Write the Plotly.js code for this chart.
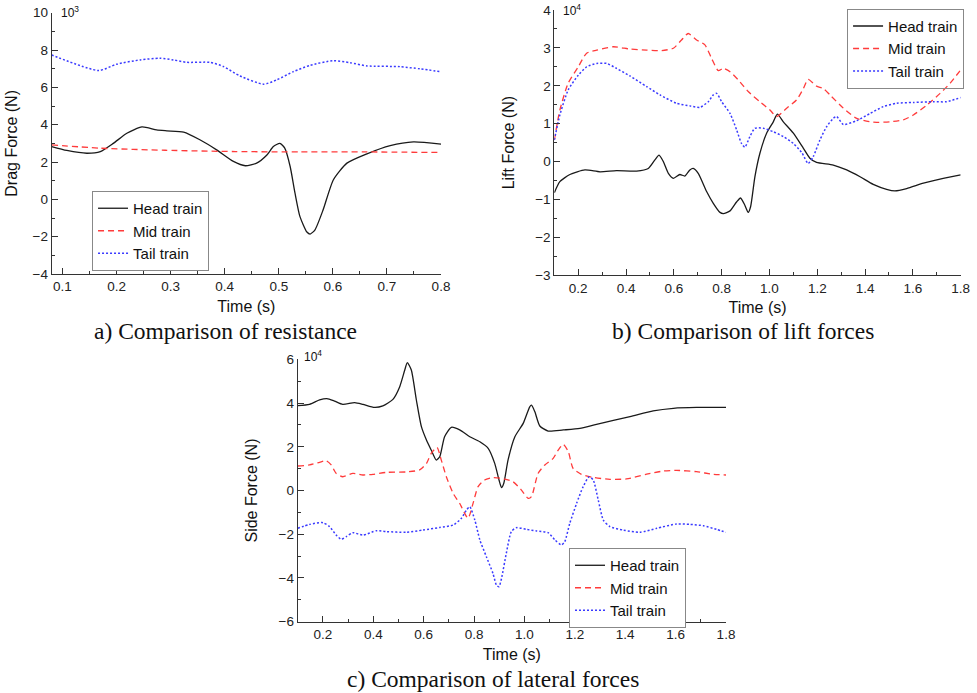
<!DOCTYPE html>
<html>
<head>
<meta charset="utf-8">
<script src="https://cdn.plot.ly/plotly-3.0.1.min.js"></script>
<style>html,body{margin:0;padding:0;background:#fff;}#chart{width:977px;height:693px;}</style>
</head>
<body>
<div id="chart"></div>
<script>
// ---- a) Drag force (x10^3 N) ----
const dragHeadT = [0.08,0.108,0.145,0.17,0.194,0.219,0.247,0.274,0.293,0.324,0.354,0.385,0.416,0.438,0.459,0.478,0.49,0.502,0.511,0.521,0.53,0.539,0.552,0.558,0.567,0.582,0.601,0.626,0.663,0.706,0.749,0.8];
const dragHeadV = [2.83,2.62,2.47,2.56,3.0,3.54,3.88,3.72,3.67,3.60,3.19,2.65,2.03,1.80,1.94,2.38,2.83,3.0,2.74,1.76,0.33,-0.91,-1.75,-1.86,-1.63,-0.56,1.05,1.94,2.44,2.88,3.08,2.96];
const dragMidT = [0.08,0.17,0.29,0.42,0.54,0.66,0.8];
const dragMidV = [2.92,2.74,2.63,2.56,2.54,2.54,2.51];
const dragTailT = [0.08,0.167,0.2,0.244,0.28,0.305,0.33,0.373,0.398,0.428,0.472,0.496,0.527,0.558,0.601,0.632,0.663,0.724,0.761,0.8];
const dragTailV = [7.73,6.90,7.24,7.47,7.56,7.47,7.34,7.34,7.11,6.61,6.17,6.40,6.84,7.18,7.43,7.32,7.15,7.11,6.99,6.84];

// ---- b) Lift force (x10^4 N) ----
const liftHeadT = [0.1,0.123,0.165,0.228,0.291,0.36,0.444,0.493,0.52,0.538,0.556,0.577,0.598,0.625,0.646,0.667,0.681,0.702,0.737,0.765,0.793,0.807,0.835,0.863,0.879,0.897,0.911,0.921,0.939,0.96,0.988,1.016,1.033,1.058,1.1,1.142,1.169,1.197,1.267,1.323,1.379,1.434,1.49,1.525,1.574,1.644,1.727,1.8];
const liftHeadV = [-0.82,-0.53,-0.34,-0.22,-0.27,-0.24,-0.25,-0.18,0.04,0.17,0.0,-0.31,-0.44,-0.34,-0.38,-0.22,-0.18,-0.31,-0.79,-1.10,-1.34,-1.37,-1.30,-1.06,-0.96,-1.15,-1.34,-1.19,-0.40,0.22,0.75,1.05,1.25,1.05,0.75,0.35,0.09,-0.02,-0.09,-0.22,-0.40,-0.60,-0.73,-0.77,-0.71,-0.57,-0.44,-0.35];
const liftMidT = [0.1,0.123,0.158,0.2,0.235,0.277,0.346,0.416,0.486,0.549,0.598,0.632,0.66,0.695,0.73,0.758,0.786,0.807,0.835,0.87,0.911,0.96,1.002,1.03,1.072,1.114,1.142,1.162,1.197,1.225,1.253,1.309,1.365,1.434,1.504,1.56,1.602,1.658,1.714,1.756,1.8];
const liftMidV = [0.57,1.36,2.07,2.50,2.86,2.94,3.03,2.97,2.94,2.93,2.99,3.21,3.38,3.21,3.08,2.72,2.40,2.46,2.37,2.15,1.85,1.58,1.36,1.19,1.41,1.63,1.93,2.17,1.99,1.93,1.76,1.41,1.14,1.04,1.05,1.10,1.23,1.49,1.80,2.07,2.42];
const liftTailT = [0.1,0.123,0.158,0.2,0.235,0.277,0.319,0.36,0.416,0.486,0.542,0.611,0.667,0.709,0.744,0.765,0.779,0.8,0.835,0.863,0.883,0.897,0.918,0.939,0.974,1.016,1.058,1.1,1.135,1.162,1.183,1.211,1.239,1.267,1.281,1.309,1.365,1.421,1.476,1.532,1.602,1.686,1.741,1.8];
const liftTailV = [0.57,1.23,1.89,2.28,2.50,2.59,2.59,2.46,2.26,1.98,1.76,1.54,1.47,1.43,1.58,1.76,1.80,1.58,1.27,0.83,0.48,0.38,0.66,0.88,0.88,0.79,0.66,0.48,0.24,-0.05,0.13,0.57,0.92,1.14,1.19,0.98,1.08,1.27,1.45,1.54,1.56,1.58,1.58,1.69];

// ---- c) Side force (x10^4 N) ----
const sideHeadT = [0.1,0.147,0.187,0.216,0.246,0.279,0.326,0.359,0.405,0.438,0.478,0.505,0.525,0.535,0.551,0.571,0.591,0.611,0.63,0.65,0.664,0.683,0.71,0.743,0.783,0.823,0.856,0.882,0.899,0.909,0.918,0.935,0.962,0.995,1.021,1.028,1.041,1.061,1.094,1.154,1.22,1.286,1.419,1.511,1.591,1.683,1.8];
const sideHeadV = [3.88,3.94,4.14,4.20,4.09,3.94,4.02,3.94,3.80,3.87,4.17,4.75,5.51,5.85,5.51,4.14,2.92,2.31,1.85,1.39,1.55,2.46,2.89,2.77,2.46,2.23,1.93,1.24,0.48,0.13,0.33,1.40,2.46,3.07,3.83,3.90,3.61,2.95,2.72,2.77,2.84,3.03,3.38,3.64,3.76,3.80,3.80];
const sideMidT = [0.1,0.147,0.187,0.213,0.233,0.253,0.279,0.319,0.359,0.399,0.452,0.531,0.584,0.611,0.63,0.653,0.67,0.69,0.717,0.743,0.776,0.796,0.816,0.842,0.875,0.909,0.955,0.988,1.015,1.028,1.054,1.081,1.114,1.134,1.154,1.174,1.193,1.226,1.273,1.339,1.405,1.485,1.551,1.604,1.683,1.75,1.8];
const sideMidV = [1.12,1.17,1.29,1.36,1.17,0.78,0.63,0.78,0.71,0.74,0.83,0.85,0.94,1.24,1.70,1.97,1.39,0.63,-0.13,-0.59,-1.27,-0.59,0.18,0.48,0.59,0.56,0.40,0.02,-0.36,-0.28,0.78,1.17,1.47,1.85,2.11,1.78,1.01,0.74,0.60,0.51,0.53,0.75,0.89,0.92,0.86,0.74,0.71];
const sideTailT = [0.1,0.147,0.2,0.226,0.253,0.273,0.293,0.319,0.359,0.412,0.452,0.531,0.597,0.664,0.717,0.75,0.77,0.783,0.803,0.823,0.849,0.875,0.889,0.899,0.909,0.928,0.948,0.968,1.008,1.048,1.094,1.121,1.147,1.16,1.18,1.207,1.233,1.257,1.273,1.293,1.313,1.339,1.392,1.458,1.525,1.604,1.657,1.71,1.763,1.8];
const sideTailV = [-1.73,-1.55,-1.47,-1.65,-2.04,-2.23,-2.11,-1.93,-2.04,-1.84,-1.88,-1.91,-1.81,-1.69,-1.58,-1.27,-0.89,-0.74,-1.35,-2.26,-3.03,-3.79,-4.33,-4.40,-4.02,-2.87,-1.88,-1.70,-1.78,-1.85,-1.93,-2.26,-2.49,-2.34,-1.50,-0.59,0.18,0.63,0.48,-0.44,-1.35,-1.65,-1.81,-1.91,-1.73,-1.53,-1.55,-1.61,-1.78,-1.91];

const seriesNames = ["Head train","Mid train","Tail train"];
const captions = ["a) Comparison of resistance","b) Comparison of lift forces","c) Comparison of lateral forces"];
const yTitles = ["Drag Force (N)","Lift Force (N)","Side Force (N)"];
const xTitle = "Time (s)";
const scaleLabels = ["10<sup>3</sup>","10<sup>4</sup>","10<sup>4</sup>"];

const styles = [
  {color:"#1a1a1a", dash:"solid", width:1.3},
  {color:"#ff3b3b", dash:"6px,4px", width:1.3},
  {color:"#3a3aff", dash:"2px,2px", width:1.5}
];

const sets = [
  [[dragHeadT,dragHeadV],[dragMidT,dragMidV],[dragTailT,dragTailV]],
  [[liftHeadT,liftHeadV],[liftMidT,liftMidV],[liftTailT,liftTailV]],
  [[sideHeadT,sideHeadV],[sideMidT,sideMidV],[sideTailT,sideTailV]]
];
const axSuffix = ["","2","3"];
const legNames = ["legend","legend2","legend3"];

const traces = [];
sets.forEach((s,i)=>{
  s.forEach((d,j)=>{
    traces.push({
      x:d[0], y:d[1], type:"scatter", mode:"lines", name:seriesNames[j],
      xaxis:"x"+axSuffix[i], yaxis:"y"+axSuffix[i], legend:legNames[i],
      line:{color:styles[j].color, dash:styles[j].dash, width:styles[j].width, shape:"spline", smoothing:0.6}
    });
  });
});

const sans = "Liberation Sans, Arial, sans-serif";
const tickFont = {family:sans, size:13.5, color:"#222"};
const titleFont = {family:sans, size:16, color:"#111"};
const legFont = {family:sans, size:15, color:"#111"};

function xAxis(domain, range, dtick, minorD, anchor){
  return {domain:domain, range:range, dtick:dtick, tick0:0, ticks:"inside", ticklen:6, tickcolor:"#333",
    minor:{ticks:"inside", ticklen:3, dtick:minorD, tickcolor:"#333"},
    showline:true, linecolor:"#333", linewidth:1, showgrid:false, zeroline:false, anchor:anchor,
    tickfont:tickFont, tickformat:".1f", title:{text:xTitle, font:titleFont, standoff:7}, automargin:false, fixedrange:true};
}
function yAxis(domain, range, dtick, minorD, anchor, title, standoff){
  return {domain:domain, range:range, dtick:dtick, tick0:0, ticks:"inside", ticklen:6, tickcolor:"#333",
    minor:{ticks:"inside", ticklen:3, dtick:minorD, tickcolor:"#333"},
    showline:true, linecolor:"#333", linewidth:1, showgrid:false, zeroline:false, anchor:anchor,
    tickfont:tickFont, title:{text:title, font:titleFont, standoff:standoff}, automargin:false, fixedrange:true};
}
function legendAt(x, y, bg){
  return {x:x, y:y, xanchor:"left", yanchor:"top", bgcolor:bg, bordercolor:"#888", borderwidth:1,
    font:legFont, tracegroupgap:0, entrywidth:92, entrywidthmode:"pixels"};
}
function ann(text, x, y, size, family, xanchor){
  return {text:text, xref:"paper", yref:"paper", x:x, y:y, xanchor:xanchor, yanchor:"middle", showarrow:false,
    font:{family:family, size:size, color:"#111"}};
}

const serif = "Liberation Serif, Times New Roman, serif";
const layout = {
  width:977, height:693, margin:{l:0,r:0,t:0,b:0},
  paper_bgcolor:"#fff", plot_bgcolor:"#fff", showlegend:true,
  xaxis: xAxis([0.0529,0.4514],[0.08,0.8],0.1,0.05,"y"),
  yaxis: yAxis([0.6046,0.9817],[-4,10],2,1,"x",yTitles[0],10),
  xaxis2: xAxis([0.5674,0.9833],[0.1,1.8],0.2,0.1,"y2"),
  yaxis2: yAxis([0.6027,0.9856],[-3,4],1,0.5,"x2",yTitles[1],16),
  xaxis3: xAxis([0.3047,0.7431],[0.1,1.8],0.2,0.1,"y3"),
  yaxis3: yAxis([0.1029,0.4815],[-6,6],2,1,"x3",yTitles[2],16),
  legend: legendAt(0.0942, 0.7244, "#fff"),
  legend2: legendAt(0.867, 0.9874, "rgba(255,255,255,0)"),
  legend3: legendAt(0.5824, 0.2092, "#fff"),
  annotations:[
    ann(scaleLabels[0], 59/977, 1-12/693, 12, sans, "left"),
    ann(scaleLabels[1], 561/977, 1-10/693, 12, sans, "left"),
    ann(scaleLabels[2], 302/977, 1-356/693, 12, sans, "left"),
    ann(captions[0], 225/977, 1-331/693, 23.5, serif, "center"),
    ann(captions[1], 743/977, 1-331/693, 23.5, serif, "center"),
    ann(captions[2], 493/977, 1-679/693, 23.5, serif, "center")
  ]
};

Plotly.newPlot("chart", traces, layout, {staticPlot:true, displayModeBar:false});
</script>
</body>
</html>
